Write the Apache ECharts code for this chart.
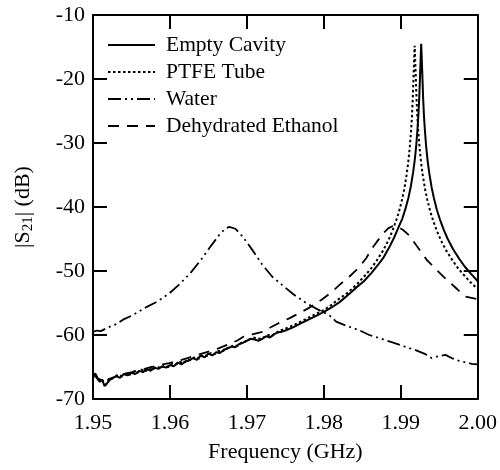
<!DOCTYPE html>
<html>
<head>
<meta charset="utf-8">
<script src="https://cdn.jsdelivr.net/npm/echarts@6/dist/echarts.min.js"></script>
<style>html,body{margin:0;padding:0;background:#fff}#c{width:500px;height:470px}</style>
</head>
<body>
<div id="c"></div>
<script>
// ---------- data ----------
const seriesNames = ['Empty Cavity', 'PTFE Tube', 'Water', 'Dehydrated Ethanol'];
const xTicks = [1.95, 1.96, 1.97, 1.98, 1.99, 2.00];
const yTicks = [-70, -60, -50, -40, -30, -20, -10];

const emptyFreq = [1.9500,1.9503,1.9506,1.9509,1.9512,1.9515,1.9518,1.9521,1.9525,1.9530,1.9535,1.9540,1.9545,1.9550,1.9555,1.9560,1.9565,1.9570,1.9575,1.9580,1.9585,1.9590,1.9595,1.9600,1.9605,1.9610,1.9615,1.9620,1.9625,1.9630,1.9635,1.9640,1.9645,1.9650,1.9655,1.9660,1.9665,1.9670,1.9675,1.9680,1.9685,1.9690,1.9695,1.9700,1.9705,1.9710,1.9715,1.9720,1.9725,1.9730,1.9735,1.9740,1.9745,1.9750,1.9760,1.9770,1.9780,1.9790,1.9800,1.9810,1.9820,1.9831,1.9842,1.9852,1.9862,1.9870,1.9877,1.9885,1.9892,1.9897,1.9902,1.9906,1.9910,1.9913,1.9916,1.9918,1.9920,1.9922,1.9923,1.9924,1.9925,1.99265,1.9928,1.9929,1.9930,1.9931,1.9933,1.9935,1.9937,1.9940,1.9943,1.9947,1.9951,1.9956,1.9961,1.9968,1.9976,1.9983,1.9991,2.0000];
const emptyS21 = [-66.3,-66.0,-66.9,-67.3,-67.0,-68.0,-67.6,-67.1,-66.8,-66.4,-66.7,-66.1,-66.3,-65.9,-66.1,-65.6,-65.8,-65.3,-65.6,-65.1,-65.3,-64.9,-65.1,-64.7,-64.9,-64.3,-64.6,-64.1,-64.0,-63.6,-63.9,-63.2,-63.5,-62.9,-63.2,-62.7,-62.8,-62.3,-62.1,-61.8,-61.9,-61.4,-61.2,-60.9,-60.6,-60.7,-60.9,-60.6,-60.2,-60.4,-59.9,-59.6,-59.5,-59.3,-58.8,-58.2,-57.6,-57.0,-56.4,-55.7,-54.9,-53.8,-52.6,-51.6,-50.3,-49.1,-48.0,-46.3,-44.6,-43.2,-41.8,-40.3,-38.5,-36.8,-34.6,-32.8,-30.5,-27.3,-25.3,-22.9,-19.5,-14.5,-19.4,-22.9,-25.5,-27.5,-30.6,-32.9,-34.7,-36.9,-38.6,-40.5,-42.0,-43.6,-45.0,-46.6,-48.1,-49.3,-50.4,-51.6];

const ptfeFreq = [1.9500,1.9504,1.9507,1.9511,1.9514,1.9517,1.9520,1.9524,1.9528,1.9533,1.9538,1.9543,1.9548,1.9553,1.9558,1.9563,1.9568,1.9573,1.9578,1.9583,1.9588,1.9593,1.9598,1.9603,1.9608,1.9613,1.9618,1.9623,1.9628,1.9633,1.9638,1.9643,1.9648,1.9653,1.9658,1.9663,1.9668,1.9673,1.9678,1.9683,1.9688,1.9693,1.9698,1.9703,1.9708,1.9713,1.9718,1.9723,1.9728,1.9733,1.9740,1.9750,1.9760,1.9770,1.9780,1.9790,1.9800,1.9810,1.9818,1.9830,1.98435,1.98535,1.98615,1.98685,1.98765,1.98835,1.98885,1.98935,1.98975,1.99015,1.99045,1.99075,1.99095,1.99115,1.99135,1.99145,1.99155,1.99165,1.9918,1.99195,1.99205,1.99215,1.99225,1.99245,1.99265,1.99285,1.99315,1.99345,1.99385,1.99425,1.99475,1.99525,1.99595,1.99675,1.99745,1.99825,1.99925,2.0000];
const ptfeS21 = [-66.6,-66.2,-67.1,-66.8,-67.4,-67.8,-67.2,-66.9,-66.5,-66.2,-66.5,-66.0,-66.2,-65.7,-65.9,-65.4,-65.7,-65.2,-65.4,-64.9,-65.2,-64.8,-65.0,-64.5,-64.6,-64.2,-64.4,-63.9,-63.8,-63.4,-63.7,-63.1,-63.3,-62.8,-63.0,-62.5,-62.6,-62.1,-61.9,-61.6,-61.7,-61.2,-61.0,-60.7,-60.4,-60.5,-60.6,-60.3,-60.0,-60.1,-59.5,-59.0,-58.5,-57.9,-57.3,-56.7,-56.1,-55.3,-54.5,-53.5,-52.0,-50.7,-49.6,-48.4,-46.9,-45.3,-43.9,-42.3,-40.8,-38.9,-37.2,-35.0,-33.2,-30.9,-27.8,-25.8,-23.2,-19.7,-14.8,-19.7,-23.2,-25.8,-27.8,-30.9,-33.2,-35.0,-37.2,-38.9,-40.8,-42.3,-43.9,-45.3,-46.9,-48.4,-49.6,-50.7,-52.0,-52.8];

const waterFreq = [1.9500,1.9505,1.9510,1.9520,1.9530,1.9539,1.9550,1.9560,1.9570,1.9583,1.9592,1.9600,1.9613,1.9626,1.9640,1.9652,1.9665,1.9672,1.9677,1.9685,1.9695,1.9707,1.9720,1.9733,1.9746,1.9760,1.9777,1.9792,1.9807,1.9816,1.9830,1.9845,1.9859,1.9875,1.9890,1.9907,1.9920,1.9932,1.9940,1.9950,1.9958,1.9966,1.9975,1.9985,1.9992,2.0000];
const waterS21 = [-59.5,-59.3,-59.4,-58.8,-58.3,-57.6,-57.0,-56.3,-55.6,-54.8,-54.1,-53.4,-52.0,-50.4,-48.3,-46.3,-44.2,-43.4,-43.1,-43.4,-44.7,-46.7,-49.0,-50.9,-52.2,-53.6,-55.0,-56.0,-56.9,-57.9,-58.6,-59.2,-60.0,-60.6,-61.2,-61.9,-62.4,-63.0,-63.6,-63.3,-63.1,-63.6,-64.0,-64.3,-64.5,-64.6];

const ethanolFreq = [1.9500,1.9505,1.9510,1.9515,1.9520,1.9527,1.9535,1.9543,1.9551,1.9559,1.9567,1.9575,1.9583,1.9591,1.9599,1.9607,1.9615,1.9623,1.9631,1.9639,1.9647,1.9655,1.9663,1.9671,1.9679,1.9687,1.9695,1.9707,1.9720,1.9731,1.9742,1.9755,1.9768,1.9783,1.9798,1.9810,1.9820,1.9833,1.9846,1.9855,1.9863,1.9871,1.9878,1.9884,1.98912,1.9896,1.9903,1.99106,1.9922,1.9934,1.9947,1.9960,1.9972,1.9984,2.0000];
const ethanolS21 = [-66.1,-66.7,-67.0,-67.5,-66.9,-66.6,-66.3,-66.0,-65.8,-65.5,-65.3,-65.0,-64.9,-64.6,-64.4,-64.1,-63.9,-63.6,-63.3,-63.0,-62.7,-62.4,-62.1,-61.7,-61.3,-60.9,-60.3,-59.9,-59.5,-58.8,-58.1,-57.4,-56.6,-55.6,-54.4,-53.3,-52.2,-50.9,-49.4,-48.0,-46.4,-45.1,-44.0,-43.3,-42.9,-43.1,-43.6,-44.4,-46.3,-48.3,-49.9,-51.4,-52.7,-54.0,-54.4];

// ---------- chart ----------
const zip = (xs, ys) => xs.map((x, i) => [x, ys[i]]);
const FONT = 'Liberation Serif';
const chart = echarts.init(document.getElementById('c'), null, {renderer: 'canvas'});

const baseAxis = {
  axisLine: {show: true, onZero: false, lineStyle: {color: '#000', width: 2}},
  axisTick: {show: true, inside: true, length: 14, lineStyle: {color: '#000', width: 2}},
  splitLine: {show: false},
};

chart.setOption({
  animation: false,
  backgroundColor: '#fff',
  color: ['#000', '#000', '#000', '#000'],
  grid: {left: 93, right: 21, top: 15, bottom: 71, containLabel: false},
  legend: {
    data: seriesNames,
    orient: 'vertical',
    left: 107, top: 34, padding: 0,
    itemWidth: 47, itemHeight: 14, itemGap: 5,
    itemStyle: {opacity: 0, color: 'rgba(0,0,0,0)', borderWidth: 0},
    textStyle: {fontFamily: FONT, fontSize: 21.5, color: '#000', padding: [0, 0, 0, 6]},
    selectedMode: false
  },
  xAxis: [
    Object.assign({}, baseAxis, {
      type: 'value', position: 'bottom', min: xTicks[0], max: xTicks[xTicks.length - 1], interval: 0.01,
      name: 'Frequency (GHz)', nameLocation: 'middle', nameGap: 42,
      nameTextStyle: {fontFamily: FONT, fontSize: 22, color: '#000'},
      axisLabel: {fontFamily: FONT, fontSize: 22, color: '#000', margin: 13, formatter: v => v.toFixed(2)}
    }),
    Object.assign({}, baseAxis, {
      type: 'value', position: 'top', min: xTicks[0], max: xTicks[xTicks.length - 1], interval: 0.01,
      axisLabel: {show: false}
    })
  ],
  yAxis: [
    Object.assign({}, baseAxis, {
      type: 'value', position: 'left', min: yTicks[0], max: yTicks[yTicks.length - 1], interval: 10,
      name: '{t||S}{s|21}{t|| (dB)}', nameLocation: 'middle', nameGap: 57, nameRotate: 90,
      nameTextStyle: {rich: {
        t: {fontFamily: FONT, fontSize: 22, color: '#000'},
        s: {fontFamily: FONT, fontSize: 15, color: '#000', verticalAlign: 'bottom', padding: [10, 0, 0, 0]}
      }},
      axisLabel: {fontFamily: FONT, fontSize: 22, color: '#000', margin: 8}
    }),
    Object.assign({}, baseAxis, {
      type: 'value', position: 'right', min: yTicks[0], max: yTicks[yTicks.length - 1], interval: 10,
      axisLabel: {show: false}
    })
  ],
  series: [
    {name: seriesNames[0], type: 'line', data: zip(emptyFreq, emptyS21), symbol: 'none',
     itemStyle: {color: '#000'}, lineStyle: {color: '#000', width: 2, type: 'solid'}},
    {name: seriesNames[1], type: 'line', data: zip(ptfeFreq, ptfeS21), symbol: 'none',
     itemStyle: {color: '#000'}, lineStyle: {color: '#000', width: 2, type: [2.5, 2.5]}},
    {name: seriesNames[2], type: 'line', data: zip(waterFreq, waterS21), symbol: 'none',
     itemStyle: {color: '#000'}, lineStyle: {color: '#000', width: 1.8, type: [13, 4, 2, 4, 2, 4]}},
    {name: seriesNames[3], type: 'line', data: zip(ethanolFreq, ethanolS21), symbol: 'none',
     itemStyle: {color: '#000'}, lineStyle: {color: '#000', width: 1.8, type: [11, 8]}}
  ]
});
</script>
</body>
</html>
